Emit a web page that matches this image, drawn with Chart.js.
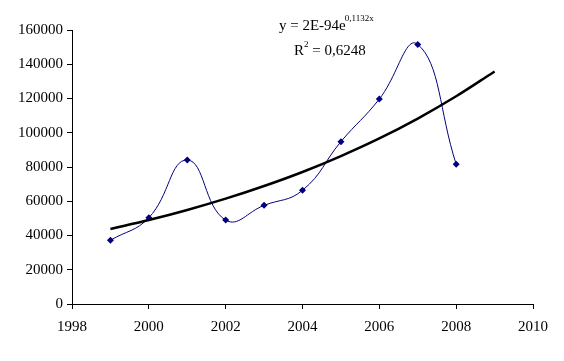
<!DOCTYPE html>
<html>
<head>
<meta charset="utf-8">
<script src="https://cdn.jsdelivr.net/npm/chart.js@4"></script>
<style>
  html, body { margin: 0; padding: 0; background: #fff; }
  #wrap { width: 564px; height: 361px; }
</style>
</head>
<body>
<div id="wrap"><canvas id="chart" width="564" height="361"></canvas></div>
<script>
const years = [1999, 2000, 2001, 2002, 2003, 2004, 2005, 2006, 2007, 2008];
const values = [37200, 50400, 84100, 49000, 57600, 66400, 94800, 119700, 151600, 81600];

const trendYears = [1999, 2000, 2001, 2002, 2003, 2004, 2005, 2006, 2007, 2008, 2009];
const trendValues = [43800, 49000, 54900, 61500, 68900, 77100, 86400, 96700, 108300, 121300, 135800];

const xTicks = [1998, 2000, 2002, 2004, 2006, 2008, 2010];
const yTicks = [0, 20000, 40000, 60000, 80000, 100000, 120000, 140000, 160000];

const equation = { base: 'y = 2E-94e', exp: '0,1132x' };
const rSquared = { base: 'R', sup: '2', rest: ' = 0,6248' };

const serif = '"Liberation Serif", "Times New Roman", serif';

const equationPlugin = {
  id: 'equationText',
  afterDraw: function (chart) {
    const ctx = chart.ctx;
    ctx.save();
    ctx.fillStyle = '#000';
    ctx.textBaseline = 'alphabetic';
    ctx.textAlign = 'left';

    let x = 279;
    ctx.font = '15px ' + serif;
    ctx.fillText(equation.base, x, 30);
    x += ctx.measureText(equation.base).width - 1;
    ctx.font = '9px ' + serif;
    ctx.fillText(equation.exp, x, 21);

    x = 294;
    ctx.font = '15px ' + serif;
    ctx.fillText(rSquared.base, x, 55);
    x += ctx.measureText(rSquared.base).width;
    ctx.font = '9px ' + serif;
    ctx.fillText(rSquared.sup, x, 47);
    x += ctx.measureText(rSquared.sup).width;
    ctx.font = '15px ' + serif;
    ctx.fillText(rSquared.rest, x, 55);
    ctx.restore();
  }
};

const ctx = document.getElementById('chart').getContext('2d');
new Chart(ctx, {
  type: 'line',
  data: {
    datasets: [{
      label: 'trend',
      data: trendYears.map((y, i) => ({ x: y, y: trendValues[i] })),
      borderColor: '#000',
      borderWidth: 2.5,
      pointRadius: 0,
      tension: 0.4,
      fill: false
    }, {
      label: 'values',
      data: years.map((y, i) => ({ x: y, y: values[i] })),
      borderColor: '#000080',
      backgroundColor: '#000080',
      borderWidth: 1,
      pointStyle: 'rectRot',
      pointRadius: 3.5,
      pointBorderWidth: 0,
      tension: 0.45,
      fill: false
    }]
  },
  options: {
    responsive: false,
    animation: false,
    layout: { padding: { top: 30, right: 31, bottom: 0, left: 0 } },
    plugins: {
      legend: { display: false },
      tooltip: { enabled: false }
    },
    scales: {
      x: {
        type: 'linear',
        min: 1998,
        max: 2010,
        afterBuildTicks: (scale) => { scale.ticks = xTicks.map(v => ({ value: v })); },
        ticks: {
          color: '#000',
          font: { family: serif, size: 15 },
          padding: 9,
          maxRotation: 0,
          callback: (v) => String(v)
        },
        grid: { drawOnChartArea: false, color: '#000', tickLength: 5, tickWidth: 1 },
        border: { color: '#000', width: 1 },
        afterFit: (scale) => { scale.height = 57; }
      },
      y: {
        min: 0,
        max: 160000,
        afterBuildTicks: (scale) => { scale.ticks = yTicks.map(v => ({ value: v })); },
        ticks: {
          color: '#000',
          font: { family: serif, size: 15 },
          padding: 4,
          callback: (v) => String(v)
        },
        grid: { drawOnChartArea: false, color: '#000', tickLength: 5, tickWidth: 1 },
        border: { color: '#000', width: 1 },
        afterFit: (scale) => { scale.width = 72; }
      }
    }
  },
  plugins: [equationPlugin]
});
</script>
</body>
</html>
